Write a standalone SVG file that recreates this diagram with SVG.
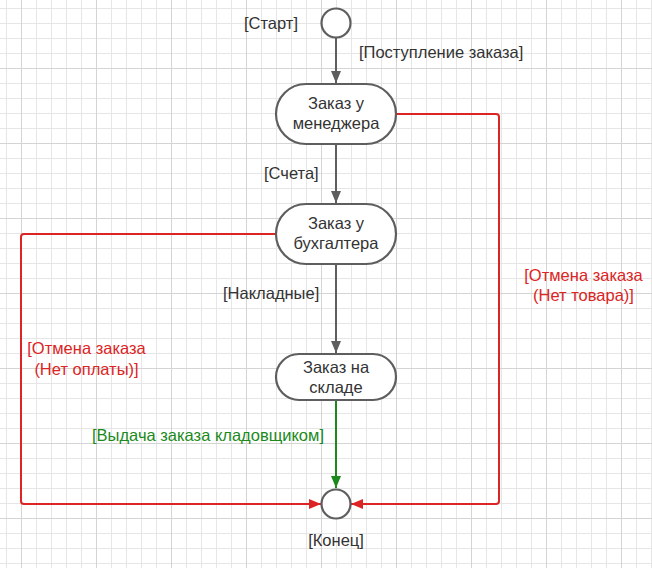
<svg xmlns="http://www.w3.org/2000/svg" width="652" height="568" viewBox="0 0 652 568">
<defs>
<pattern id="minor" patternUnits="userSpaceOnUse" x="6" y="8" width="15" height="15">
<path d="M0.5 0V15M0 0.5H15" stroke="#e6e6e6" stroke-width="1" fill="none"/>
</pattern>
<pattern id="major" patternUnits="userSpaceOnUse" x="21" y="68" width="75" height="75">
<path d="M0.5 0V75M0 0.5H75" stroke="#d4d4d4" stroke-width="1" fill="none"/>
</pattern>
<marker id="ag" markerUnits="userSpaceOnUse" markerWidth="14" markerHeight="12" refX="12" refY="5" orient="auto">
<path d="M0 0L12 5L0 10Z" fill="#5e5e5e"/>
</marker>
<marker id="ar" markerUnits="userSpaceOnUse" markerWidth="14" markerHeight="12" refX="12" refY="5" orient="auto">
<path d="M0 0L12 5L0 10Z" fill="#dc2424"/>
</marker>
<marker id="agr" markerUnits="userSpaceOnUse" markerWidth="14" markerHeight="12" refX="12" refY="5" orient="auto">
<path d="M0 0L12 5L0 10Z" fill="#1b8a1b"/>
</marker>
</defs>
<style>
.node{fill:#ffffff;stroke:#5e5e5e;stroke-width:2.2}
.t{font-family:"Liberation Sans",Arial,sans-serif;font-size:16.5px;fill:#333333}
.nt{text-anchor:middle}
.red{fill:#dc2424}
.green{fill:#1b8a1b}
.cg{fill:none;stroke:#5e5e5e;stroke-width:2}
.cr{fill:none;stroke:#dc2424;stroke-width:2;stroke-linejoin:round}
.cgr{fill:none;stroke:#1b8a1b;stroke-width:2}
</style>
<rect width="652" height="568" fill="#ffffff"/>
<rect width="652" height="568" fill="url(#minor)"/>
<rect width="652" height="568" fill="url(#major)"/>

<g id="connectors">
<path class="cg" d="M336 38V83" marker-end="url(#ag)"/>
<path class="cg" d="M336 145V203" marker-end="url(#ag)"/>
<path class="cg" d="M336 265V353" marker-end="url(#ag)"/>
<path class="cgr" d="M336 401V488" marker-end="url(#agr)"/>
<path class="cr" d="M397 114H496Q499 114 499 117V501Q499 504 496 504H351" marker-end="url(#ar)"/>
<path class="cr" d="M275 234H24Q21 234 21 237V501Q21 504 24 504H321" marker-end="url(#ar)"/>
</g>

<g id="labels">
<text class="t" x="244" y="29">[Старт]</text>
<text class="t" x="359" y="58">[Поступление заказа]</text>
<text class="t" x="264" y="179">[Счета]</text>
<text class="t" x="223" y="299">[Накладные]</text>
<text class="t red nt" x="583.5" y="281">[Отмена заказа</text>
<text class="t red nt" x="583.5" y="301">(Нет товара)]</text>
<text class="t red nt" x="86.5" y="354">[Отмена заказа</text>
<text class="t red nt" x="86.5" y="375">(Нет оплаты)]</text>
<text class="t green" x="92" y="441">[Выдача заказа кладовщиком]</text>
<text class="t nt" x="336" y="546">[Конец]</text>
</g>

<g id="start">
<circle class="node" cx="336" cy="23" r="14.5"/>
</g>
<g id="manager">
<rect class="node" x="276" y="84" width="120" height="60" rx="30"/>
<text class="t nt" x="336" y="109">Заказ у</text>
<text class="t nt" x="336" y="129">менеджера</text>
</g>
<g id="accountant">
<rect class="node" x="276" y="204" width="120" height="60" rx="30"/>
<text class="t nt" x="336" y="229">Заказ у</text>
<text class="t nt" x="336" y="249">бухгалтера</text>
</g>
<g id="warehouse">
<rect class="node" x="276" y="354" width="120" height="46" rx="23"/>
<text class="t nt" x="336" y="373">Заказ на</text>
<text class="t nt" x="336" y="393">складе</text>
</g>
<g id="end">
<circle class="node" cx="336" cy="504" r="14.5"/>
</g>
</svg>
